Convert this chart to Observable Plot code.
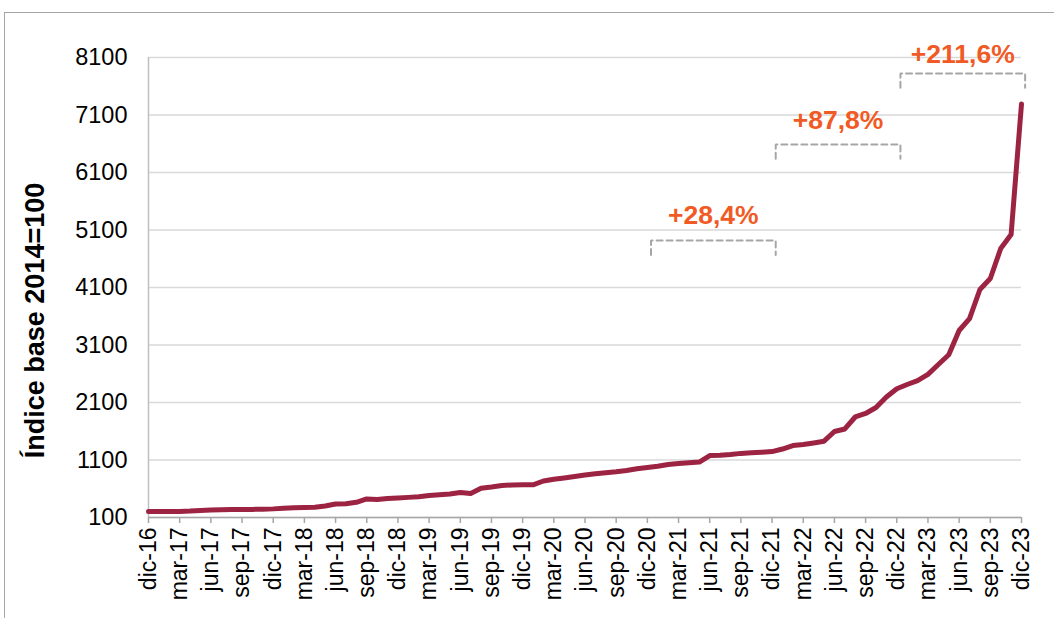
<!DOCTYPE html>
<html><head><meta charset="utf-8">
<script src="https://cdn.jsdelivr.net/npm/d3@7"></script>
<script src="https://cdn.jsdelivr.net/npm/@observablehq/plot@0.6"></script>
<style>
body{margin:0;background:#fff;font-family:"Liberation Sans",Arial,sans-serif;}
#wrap{position:relative;width:1054px;height:618px;overflow:hidden;background:#fff;}
#frame{position:absolute;left:4px;top:12px;width:1200px;height:800px;border-left:1.5px solid #a6a6a6;border-top:1.5px solid #a6a6a6;}
#chart{position:absolute;left:0;top:0;}
</style></head><body>
<div id="wrap"><div id="frame"></div><div id="chart"></div></div>
<script>
// Tick labels (every 3 months, dic-16 .. dic-23)
const tickLabels = ["dic-16","mar-17","jun-17","sep-17","dic-17","mar-18","jun-18","sep-18","dic-18","mar-19","jun-19","sep-19","dic-19","mar-20","jun-20","sep-20","dic-20","mar-21","jun-21","sep-21","dic-21","mar-22","jun-22","sep-22","dic-22","mar-23","jun-23","sep-23","dic-23"];
// Monthly index values (base 2014=100), dic-16 .. dic-23
const values = [204,204,205,206,211,222,230,236,240,240,241,245,250,262,270,275,280,300,335,340,364,423,412,432,440,450,460,483,495,509,535,517,608,630,657,665,669,669,735,764,787,813,839,862,880,896,917,947,970,990,1022,1039,1053,1065,1178,1182,1196,1215,1225,1235,1246,1291,1352,1369,1396,1427,1596,1640,1848,1909,2013,2196,2340,2413,2480,2590,2760,2930,3352,3560,4065,4256,4778,5021,7291];
const yTicks = [100,1100,2100,3100,4100,5100,6100,7100,8100];
const yLabel = "Índice base 2014=100";
// Year-on-year change annotations
const periodLabels = ["+28,4%","+87,8%","+211,6%"];
const periodStarts = ["dic-20","dic-21","dic-22"];
const periodEnds = ["dic-21","dic-22","dic-23"];

// annotation layout (data units)
const bracketTop = [4917, 6587, 7822];
const labelBase = [5213, 6865, 8013];
const legDrop = 250, xShift = 0.35;

const data = values.map((v, i) => ({i, v}));
const monthIndex = l => tickLabels.indexOf(l) * 3;
const brackets = periodLabels.flatMap((lab, k) => {
  const a = monthIndex(periodStarts[k]) + xShift, b = monthIndex(periodEnds[k]) + xShift;
  const t = bracketTop[k], bt = t - legDrop;
  return [{k, x: a, y: bt}, {k, x: a, y: t}, {k, x: b, y: t}, {k, x: b, y: bt}];
});
const labels = periodLabels.map((lab, k) => ({
  lab,
  x: (monthIndex(periodStarts[k]) + monthIndex(periodEnds[k])) / 2 + xShift,
  y: labelBase[k]
}));

const chart = Plot.plot({
  width: 1054, height: 618,
  marginLeft: 148, marginRight: 33, marginTop: 57, marginBottom: 101,
  style: {fontFamily: "'Liberation Sans', Arial, sans-serif", background: "transparent", overflow: "visible"},
  x: {domain: [0, 84]},
  y: {domain: [100, 8100]},
  marks: [
    Plot.gridY(yTicks, {stroke: "#d9d9d9", strokeOpacity: 1, strokeWidth: 1.5}),
    Plot.ruleX([0], {stroke: "#bfbfbf", strokeWidth: 1.5}),
    Plot.ruleY([100], {stroke: "#a6a6a6", strokeWidth: 1.5}),
    Plot.axisY({ticks: yTicks, tickFormat: d => String(d), tickSize: 0, tickPadding: 21, fontSize: 23.5, fill: "#000", label: null}),
    Plot.axisX({ticks: d3.range(0, 85, 3), tickFormat: i => tickLabels[i / 3], tickRotate: -90,
      tickSize: 6, tickPadding: 4, fontSize: 23, stroke: "#a6a6a6", strokeWidth: 1.5, fill: "#000", label: null}),
    Plot.line(brackets, {x: "x", y: "y", z: "k", stroke: "#a6a6a6", strokeWidth: 2, strokeDasharray: "6,4", strokeLinejoin: "miter"}),
    Plot.text(labels, {x: "x", y: "y", text: "lab", lineAnchor: "bottom", fontSize: 26.5, fontWeight: "bold", fill: "#F15A24"}),
    Plot.line(data, {x: "i", y: "v", stroke: "#9C2442", strokeWidth: 5}),
    Plot.text([yLabel], {text: d => d, frameAnchor: "left", textAnchor: "middle", rotate: -90, dx: -113, dy: 33, fontSize: 27, fontWeight: "bold", fill: "#000"})
  ]
});
document.getElementById("chart").appendChild(chart);
</script>
</body></html>
